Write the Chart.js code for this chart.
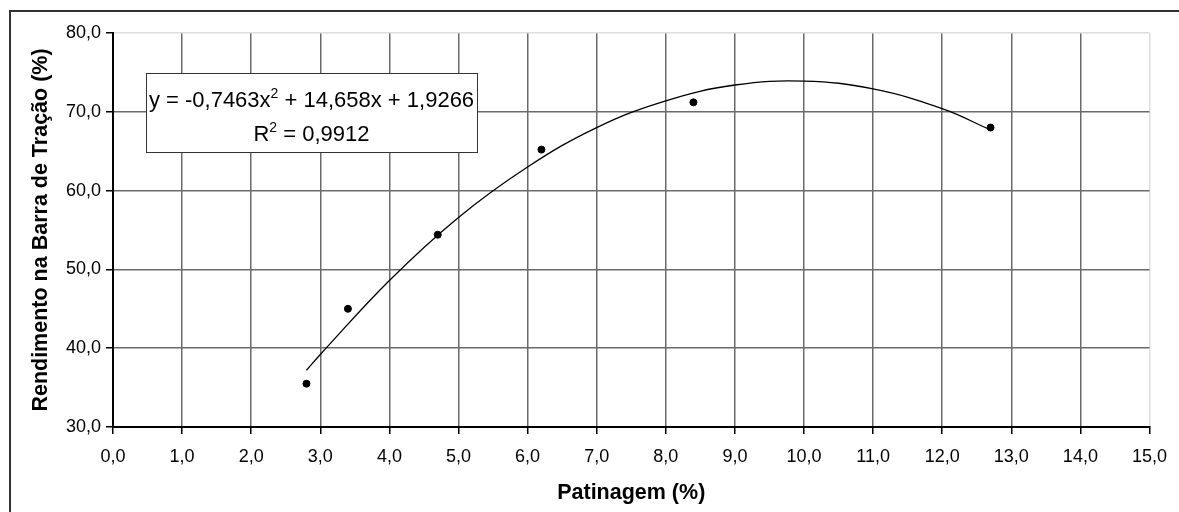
<!DOCTYPE html>
<html>
<head>
<meta charset="utf-8">
<script src="https://cdn.jsdelivr.net/npm/chart.js@4/dist/chart.umd.min.js"></script>
<style>
  html, body { margin: 0; padding: 0; background: #fff; }
  #wrap { width: 1179px; height: 512px; }
</style>
</head>
<body>
<div id="wrap"><canvas id="chart" width="1179" height="512"></canvas></div>
<script>
// measured points (Patinagem %, Rendimento %)
const patinagem = [2.8, 3.4, 4.7, 6.2, 8.4, 12.7];
const rendimento = [35.5, 45.0, 54.4, 65.2, 71.2, 68.0];

// polynomial trend line
const trendX = [2.8, 3, 4, 5, 6, 7, 8, 9, 10, 11, 12, 12.7];
const trendY = [37.2, 39.2, 48.6, 56.6, 63.0, 68.0, 71.4, 73.4, 73.9, 72.9, 70.4, 67.7];

const eqLine1 = ['y = -0,7463x', '2', ' + 14,658x + 1,9266'];
const eqLine2 = ['R', '2', ' = 0,9912'];

const FONT = '"Liberation Sans", Arial, sans-serif';
const fmt = v => v.toFixed(1).replace('.', ',');

// outer frame of the sheet
const framePlugin = {
  id: 'frame',
  beforeDraw(chart) {
    const c = chart.ctx;
    c.save();
    c.strokeStyle = '#333';
    c.lineWidth = 2;
    c.beginPath();
    c.moveTo(10, 512);
    c.lineTo(10, 11);
    c.lineTo(1179, 11);
    c.stroke();
    c.restore();
  }
};

// draw "text with superscript" pieces centred on cx
function drawSup(c, parts, cx, baseline) {
  const big = '22px ' + FONT;
  const small = '14px ' + FONT;
  c.font = big;
  const w0 = c.measureText(parts[0]).width;
  const w2 = c.measureText(parts[2]).width;
  c.font = small;
  const w1 = c.measureText(parts[1]).width;
  let x = cx - (w0 + w1 + w2) / 2;
  c.textAlign = 'left';
  c.textBaseline = 'alphabetic';
  c.font = big;
  c.fillText(parts[0], x, baseline);
  x += w0;
  c.font = small;
  c.fillText(parts[1], x, baseline - 9);
  x += w1;
  c.font = big;
  c.fillText(parts[2], x, baseline);
}

const eqPlugin = {
  id: 'equation',
  afterDatasetsDraw(chart) {
    const c = chart.ctx;
    const a = chart.chartArea;
    const x = Math.round(a.left + 33), y = Math.round(a.top + 40), w = 331, h = 79;
    c.save();
    c.fillStyle = '#fff';
    c.fillRect(x, y, w, h);
    c.strokeStyle = '#333';
    c.lineWidth = 1;
    c.strokeRect(x + 0.5, y + 0.5, w, h);
    c.fillStyle = '#000';
    drawSup(c, eqLine1, x + w / 2, y + 34);
    drawSup(c, eqLine2, x + w / 2, y + 68);
    c.restore();
  }
};

const ctx = document.getElementById('chart').getContext('2d');
new Chart(ctx, {
  type: 'scatter',
  data: {
    datasets: [
      {
        label: 'Rendimento',
        data: patinagem.map((x, i) => ({ x: x, y: rendimento[i] })),
        backgroundColor: '#000',
        borderColor: '#000',
        pointRadius: 3.5,
        pointHoverRadius: 3.5,
        order: 1
      },
      {
        label: 'Tendência',
        type: 'line',
        data: trendX.map((x, i) => ({ x: x, y: trendY[i] })),
        borderColor: '#000',
        borderWidth: 1.3,
        pointRadius: 0,
        tension: 0.4,
        fill: false,
        order: 2
      }
    ]
  },
  options: {
    responsive: false,
    animation: false,
    layout: { padding: { left: 0, top: 33, right: 16, bottom: 0 } },
    plugins: {
      legend: { display: false },
      tooltip: { enabled: false }
    },
    scales: {
      x: {
        type: 'linear',
        min: 0,
        max: 15,
        afterFit: s => { s.height = 85; },
        ticks: {
          stepSize: 1,
          color: '#000',
          padding: 12,
          maxRotation: 0,
          font: { family: FONT, size: 18 },
          callback: v => fmt(v)
        },
        grid: {
          color: c => c.tick && c.tick.value === 15 ? '#ddd' : '#6a6a6a',
          lineWidth: 1.5,
          tickLength: 7,
          tickColor: '#000'
        },
        border: { color: '#000', width: 2 },
        title: {
          display: true,
          text: 'Patinagem (%)',
          color: '#000',
          padding: { top: 0, bottom: 6 },
          font: { family: FONT, size: 21.5, weight: 'bold' }
        }
      },
      y: {
        min: 30,
        max: 80,
        afterFit: s => { s.width = 113; },
        ticks: {
          stepSize: 10,
          color: '#000',
          padding: 5,
          font: { family: FONT, size: 18 },
          callback: v => fmt(v)
        },
        grid: {
          color: c => c.tick && c.tick.value === 80 ? '#ddd' : '#6a6a6a',
          lineWidth: 1.5,
          tickLength: 7,
          tickColor: '#000'
        },
        border: { color: '#000', width: 2 },
        title: {
          display: true,
          text: 'Rendimento na Barra de Tração (%)',
          color: '#000',
          padding: { top: 28, bottom: 0 },
          font: { family: FONT, size: 21.5, weight: 'bold' }
        }
      }
    }
  },
  plugins: [framePlugin, eqPlugin]
});
</script>
</body>
</html>
